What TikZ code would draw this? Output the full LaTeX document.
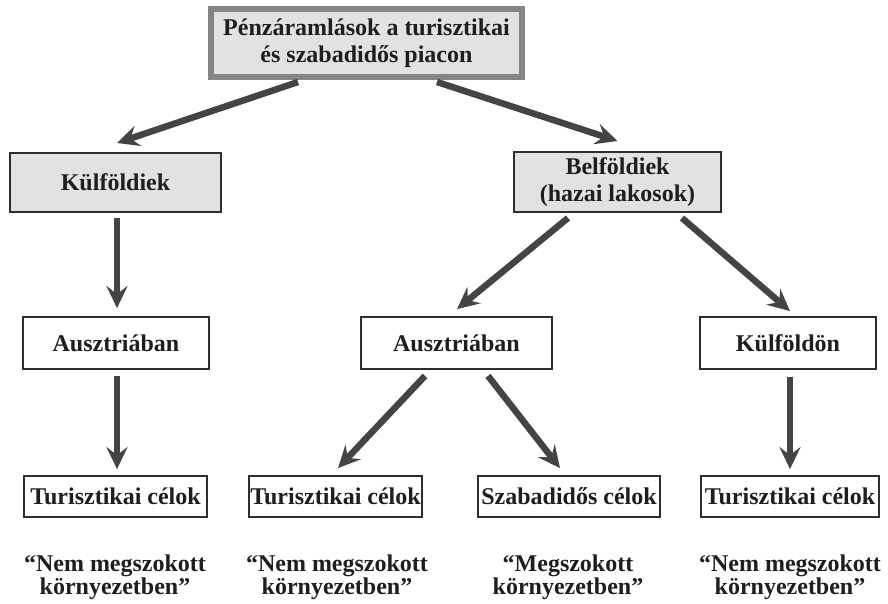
\documentclass[tikz,border=0pt]{standalone}
\usepackage{fontspec}
\setmainfont{Liberation Serif}
\usetikzlibrary{arrows.meta}
\definecolor{boxfill}{HTML}{E2E2E2}
\definecolor{topframe}{HTML}{858585}
\definecolor{frame}{HTML}{2E2E2E}
\definecolor{arrowgray}{HTML}{444444}
\definecolor{ink}{HTML}{1E1E1E}
\begin{document}
\begin{tikzpicture}[x=1pt,y=-1pt,
  every node/.style={font=\bfseries\fontsize{24}{27.5}\selectfont, text=ink, align=center, inner sep=0pt},
  topbox/.style={draw=topframe, line width=6pt, fill=boxfill, minimum width=311pt, minimum height=68pt},
  greybox/.style={draw=frame, line width=2pt, fill=boxfill},
  whitebox/.style={draw=frame, line width=1.8pt, fill=white},
  caption/.style={font=\bfseries\fontsize{24}{23}\selectfont},
  arr/.style={draw=arrowgray, line width=6.5pt,
    -{Stealth[length=22pt, width=21pt, inset=8pt, fill=arrowgray]}},
]
\useasboundingbox[fill=white] (0,0) rectangle (888,604);

% boxes
\node[topbox] (top) at (366.5,43) {Pénzáramlások a turisztikai\\és szabadidős piacon};
\node[greybox, minimum width=211pt, minimum height=59pt] (kul) at (115.5,182.5) {Külföldiek};
\node[greybox, minimum width=207pt, minimum height=60pt] (bel) at (617.5,182) {Belföldiek\\(hazai lakosok)};

\node[whitebox, minimum width=186pt, minimum height=52pt] (ausL) at (116,343) {Ausztriában};
\node[whitebox, minimum width=191pt, minimum height=52pt] (ausM) at (456.5,343) {Ausztriában};
\node[whitebox, minimum width=176pt, minimum height=52pt] (kf) at (788,343) {Külföldön};

\node[whitebox, minimum width=183pt, minimum height=41pt] (t1) at (115.5,496.5) {Turisztikai célok};
\node[whitebox, minimum width=173pt, minimum height=41pt] (t2) at (335.5,496.5) {Turisztikai célok};
\node[whitebox, minimum width=182pt, minimum height=41pt] (sz) at (569,496.5) {Szabadidős célok};
\node[whitebox, minimum width=178pt, minimum height=41pt] (t3) at (790,496.5) {Turisztikai célok};

% captions
\node[caption] (q1) at (115,577) {“Nem megszokott\\környezetben”};
\node[caption] (q2) at (337,577) {“Nem megszokott\\környezetben”};
\node[caption] (q3) at (568,577) {“Megszokott\\környezetben”};
\node[caption] (q4) at (790,577) {“Nem megszokott\\környezetben”};

% arrows
\draw[arr] ([xshift=-68.5pt,yshift=-2pt]top.south) -- ([xshift=1.5pt,yshift=9pt]kul.north);
\draw[arr] ([xshift=70.5pt,yshift=-2pt]top.south) -- ([yshift=10pt]bel.north);
\draw[arr] ([xshift=1.5pt,yshift=-5pt]kul.south) -- ([xshift=1pt,yshift=8pt]ausL.north);
\draw[arr] ([xshift=1pt,yshift=-6pt]ausL.south) -- ([xshift=1.5pt,yshift=6pt]t1.north);
\draw[arr] ([xshift=-49.5pt,yshift=-5pt]bel.south) -- ([xshift=0.5pt,yshift=7pt]ausM.north);
\draw[arr] ([xshift=64.5pt,yshift=-5pt]bel.south) -- ([xshift=2pt,yshift=5pt]kf.north);
\draw[arr] ([xshift=-31.5pt,yshift=-6pt]ausM.south) -- ([xshift=2.5pt,yshift=7pt]t2.north);
\draw[arr] ([xshift=31.5pt,yshift=-6pt]ausM.south) -- ([xshift=-9pt,yshift=7pt]sz.north);
\draw[arr] ([xshift=2pt,yshift=-7pt]kf.south) -- ([yshift=6pt]t3.north);
\end{tikzpicture}
\end{document}
